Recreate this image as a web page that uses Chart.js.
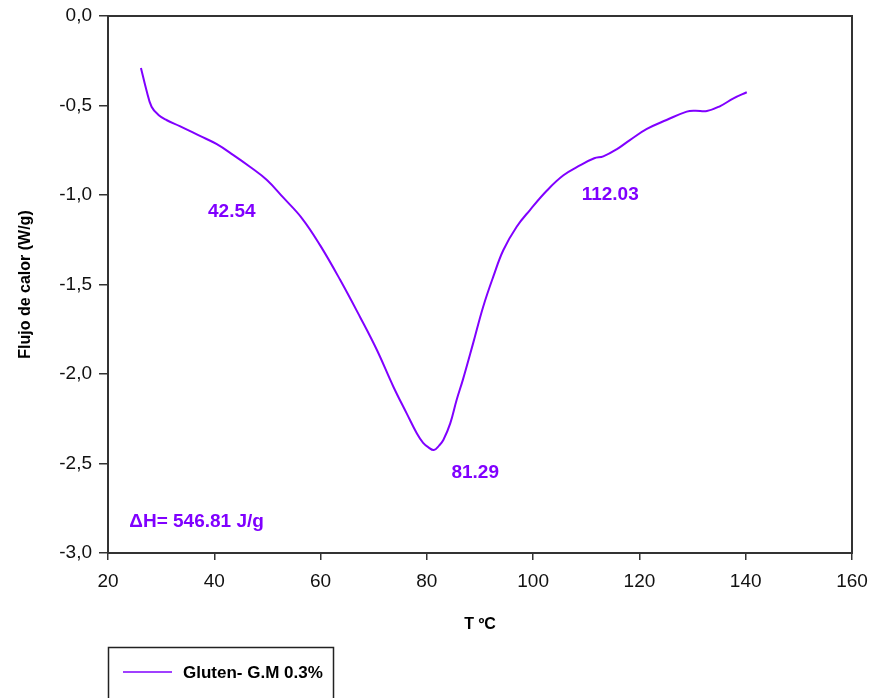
<!DOCTYPE html>
<html>
<head>
<meta charset="utf-8">
<script src="https://cdn.jsdelivr.net/npm/chart.js@4.4.0/dist/chart.umd.min.js"></script>
<style>
  html, body { margin: 0; padding: 0; background: #fff; }
  #wrap { width: 874px; height: 698px; }
</style>
</head>
<body>
<div id="wrap"><canvas id="dsc"></canvas></div>
<script>
const seriesLabel = "Gluten- G.M 0.3%";
const temps = [26.2, 27.2, 28.2, 29.5, 31.0, 33.5, 37.3, 40.4, 43.6, 46.7, 49.9, 53.0, 56.5, 59.9,
  63.7, 67.4, 70.6, 73.7, 76.2, 78.1, 79.3, 80.3, 81.3, 82.3, 83.1, 84.4, 85.6, 86.8, 88.7, 90.6,
  92.5, 94.4, 96.9, 99.4, 102.6, 105.7, 108.8, 111.5, 113.2, 115.7, 118.2, 121.4, 125.1, 128.9,
  130.5, 132.7, 135.2, 137.7, 140.2];
const heatFlow = [-0.29, -0.41, -0.507, -0.553, -0.581, -0.615, -0.670, -0.715, -0.777, -0.842, -0.916,
  -1.015, -1.13, -1.28, -1.475, -1.68, -1.866, -2.071, -2.22, -2.331, -2.385, -2.41, -2.425, -2.40,
  -2.369, -2.276, -2.145, -2.03, -1.829, -1.624, -1.456, -1.307, -1.177, -1.084, -0.975, -0.89,
  -0.835, -0.795, -0.784, -0.745, -0.693, -0.631, -0.581, -0.534, -0.529, -0.531, -0.503, -0.460, -0.426];

// texts written on the plot, placed in data units
const noteTexts = ["42.54", "81.29", "112.03", "\u0394H= 546.81 J/g"];
const noteX = [43.3, 89.1, 114.5, 24.0];
const noteY = [-1.095, -2.553, -1.0, -2.827];
const noteAlign = ["center", "center", "center", "left"];

const purple = "#8000ff";
const axisColor = "#333333";
const fontFamily = "'Liberation Sans', Arial, sans-serif";

const points = temps.map((t, i) => ({ x: t, y: heatFlow[i] }));

const extras = {
  id: "extras",
  afterDatasetsDraw(chart) {
    const { ctx, chartArea: a, scales: { x, y } } = chart;
    ctx.save();
    // full frame round the plot
    ctx.strokeStyle = axisColor;
    ctx.lineWidth = 2;
    ctx.strokeRect(a.left, a.top, a.right - a.left, a.bottom - a.top);

    ctx.fillStyle = purple;
    ctx.font = "bold 19px " + fontFamily;
    ctx.textBaseline = "middle";
    noteTexts.forEach((txt, i) => {
      ctx.textAlign = noteAlign[i];
      ctx.fillText(txt, x.getPixelForValue(noteX[i]), y.getPixelForValue(noteY[i]));
    });

    // legend box under the chart
    ctx.strokeStyle = "#222";
    ctx.lineWidth = 1.5;
    ctx.strokeRect(108.5, 647.5, 225, 70);
    ctx.strokeStyle = purple;
    ctx.lineWidth = 1.5;
    ctx.beginPath();
    ctx.moveTo(123, 672);
    ctx.lineTo(172, 672);
    ctx.stroke();
    ctx.fillStyle = "#000";
    ctx.textAlign = "left";
    ctx.font = "bold 17px " + fontFamily;
    ctx.fillText(chart.data.datasets[0].label, 183, 673);
    ctx.restore();
  }
};

new Chart(document.getElementById("dsc"), {
  type: "line",
  data: {
    datasets: [{
      label: seriesLabel,
      data: points,
      borderColor: purple,
      borderWidth: 2,
      pointRadius: 0,
      tension: 0.4,
      fill: false
    }]
  },
  options: {
    responsive: true,
    maintainAspectRatio: false,
    animation: false,
    layout: { padding: { left: 0, right: 22, top: 16, bottom: 0 } },
    plugins: {
      legend: { display: false },
      tooltip: { enabled: false }
    },
    scales: {
      x: {
        type: "linear",
        min: 20,
        max: 160,
        afterFit: (s) => { s.height = 145; s.paddingLeft = 0; s.paddingRight = 0; },
        ticks: {
          stepSize: 20,
          color: "#111",
          padding: 10,
          font: { family: fontFamily, size: 19 }
        },
        grid: { drawOnChartArea: false, drawTicks: true, tickLength: 7, color: axisColor, lineWidth: 1.5 },
        border: { color: axisColor, width: 2 },
        title: {
          display: true,
          text: "T ºC",
          color: "#000",
          font: { family: fontFamily, size: 16, weight: "bold" },
          padding: { top: 0, bottom: 64 }
        }
      },
      y: {
        min: -3,
        max: 0,
        afterFit: (s) => { s.width = 108; s.paddingTop = 0; s.paddingBottom = 0; },
        ticks: {
          stepSize: 0.5,
          color: "#111",
          padding: 7,
          font: { family: fontFamily, size: 19 },
          callback: (v) => v.toFixed(1).replace(".", ",")
        },
        grid: { drawOnChartArea: false, drawTicks: true, tickLength: 9, color: axisColor, lineWidth: 1.5 },
        border: { color: axisColor, width: 2 },
        title: {
          display: true,
          text: "Flujo de calor (W/g)",
          color: "#000",
          font: { family: fontFamily, size: 16, weight: "bold" },
          padding: { top: 16, bottom: 0 }
        }
      }
    }
  },
  plugins: [extras]
});
</script>
</body>
</html>
